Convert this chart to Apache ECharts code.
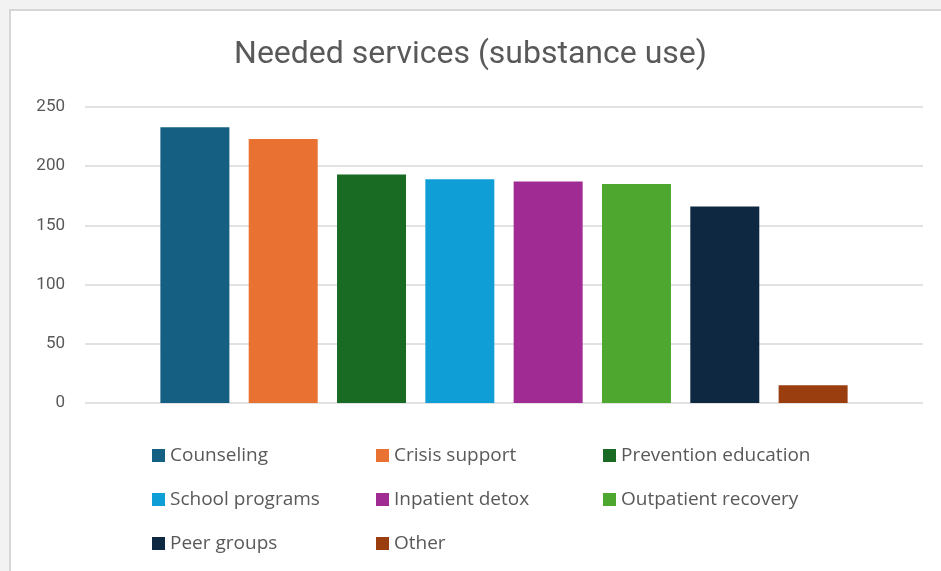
<!DOCTYPE html>
<html><head><meta charset="utf-8">
<script src="https://cdn.jsdelivr.net/npm/echarts@6/dist/echarts.min.js"></script>
<style>html,body{margin:0;padding:0;background:#f2f2f2;}#c{width:941px;height:571px;}</style>
</head><body><div id="c"></div>
<script>
const seriesNames = ['Counseling','Crisis support','Prevention education','School programs','Inpatient detox','Outpatient recovery','Peer groups','Other'];
const seriesValues = [233, 223, 193, 189, 187, 185, 166, 15];
const seriesColors = ['#156082','#E97132','#196B24','#0F9ED5','#A02B93','#4EA72E','#0E2841','#9A3E0F'];
const yTicks = [0, 50, 100, 150, 200, 250];
const legendCols = [
  ['Counseling','School programs','Peer groups'],
  ['Crisis support','Inpatient detox','Other'],
  ['Prevention education','Outpatient recovery']
];
const legendLeft = [152, 376, 603];

const chart = echarts.init(document.getElementById('c'), null, {renderer:'canvas'});
const font = 'Roboto, "Noto Sans", sans-serif';
const legendFont = '"Open Sans", Roboto, sans-serif';
chart.setOption({
  backgroundColor: 'transparent',
  animation: false,
  graphic: [{type:'rect', left: 9, top: 9, z: -10, shape:{width: 940, height: 570},
    style:{fill:'#ffffff', stroke:'#d6d6d6', lineWidth:2}}],
  title: {text:'Needed services (substance use)', left:'center', top: 34,
    textStyle:{fontFamily: font, fontSize: 32, fontWeight:'normal', color:'#595959'}},
  grid: {left: 85, right: 18, top: 107, bottom: 168},
  xAxis: {type:'category', data:[''], axisLine:{show:false}, axisTick:{show:false}, axisLabel:{show:false}},
  yAxis: {type:'value', min: yTicks[0], max: yTicks[yTicks.length-1], interval: 50,
    axisLine:{show:false}, axisTick:{show:false},
    axisLabel:{margin: 20, fontFamily: font, fontSize: 17, color:'#595959'},
    splitLine:{lineStyle:{color:'#d9d9d9', width:1.5}}},
  legend: legendCols.map((col, i) => ({
    data: col, orient:'vertical', left: legendLeft[i], top: 446,
    itemWidth: 13, itemHeight: 13, itemGap: 25, icon:'rect', padding: 0,
    textStyle:{fontFamily: legendFont, fontSize: 19, lineHeight: 19, color:'#595959'}
  })),
  series: seriesNames.map((n, i) => ({
    name: n, type:'bar', data:[seriesValues[i]], barWidth: 69, barGap: '28%',
    itemStyle:{color: seriesColors[i]}
  }))
});
</script></body></html>
